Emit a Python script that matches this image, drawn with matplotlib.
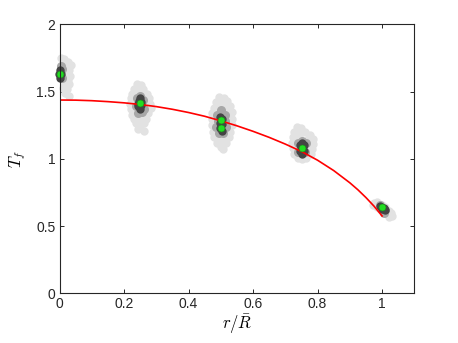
import matplotlib.pyplot as plt
from matplotlib.ticker import FuncFormatter

plt.rcParams['font.family'] = ['Liberation Sans', 'DejaVu Sans']
plt.rcParams['mathtext.fontset'] = 'cm'

# ---- fitted curve ----
curve_x = [0.0, 0.05, 0.1, 0.15, 0.2, 0.25, 0.3, 0.35, 0.4, 0.45, 0.5, 0.55,
           0.6, 0.65, 0.7, 0.75, 0.8, 0.85, 0.9, 0.925, 0.95, 0.975, 1.0]
curve_y = [1.438, 1.437, 1.433, 1.426, 1.417, 1.405, 1.389, 1.369, 1.345, 1.317,
           1.283, 1.246, 1.205, 1.160, 1.110, 1.055, 0.990, 0.913, 0.822, 0.770,
           0.712, 0.648, 0.575]

# ---- light grey scatter clouds ----
light_x = [0.005, 0.015, 0.025, 0.012, 0.022, 0.030, 0.012, 0.022, 0.032, 0.015, 0.028, 0.010,
           0.024, 0.018, 0.030, 0.006, 0.034, 0.020, 0.018, 0.026,
           0.240, 0.252, 0.232, 0.246, 0.260, 0.226, 0.270, 0.222, 0.276, 0.218, 0.280, 0.284,
           0.220, 0.226, 0.274, 0.232, 0.268, 0.262, 0.238, 0.250, 0.244, 0.262, 0.230, 0.268,
           0.236, 0.258, 0.248, 0.254, 0.238, 0.262, 0.230, 0.268, 0.244, 0.256, 0.250,
           0.495, 0.510, 0.485, 0.520, 0.478, 0.528, 0.474, 0.534, 0.472, 0.536, 0.474, 0.534,
           0.476, 0.530, 0.480, 0.526, 0.488, 0.516, 0.500, 0.506, 0.492, 0.515, 0.490, 0.515,
           0.500, 0.486, 0.518, 0.484, 0.520, 0.502,
           0.735, 0.748, 0.728, 0.760, 0.775, 0.724, 0.785, 0.722, 0.786, 0.724, 0.784, 0.728,
           0.780, 0.740, 0.765, 0.752, 0.742, 0.770, 0.735, 0.770, 0.752,
           0.975, 0.985, 0.972, 0.990, 1.000, 0.985, 1.010, 1.020, 1.028, 1.015, 1.030, 1.020,
           1.005, 0.995]
light_y = [1.75, 1.74, 1.72, 1.70, 1.68, 1.66, 1.62, 1.60, 1.62, 1.57, 1.56, 1.53,
           1.52, 1.49, 1.47, 1.68, 1.70, 1.64, 1.72, 1.59,
           1.56, 1.55, 1.52, 1.51, 1.52, 1.48, 1.48, 1.45, 1.45, 1.41, 1.41, 1.38,
           1.37, 1.33, 1.34, 1.30, 1.30, 1.27, 1.27, 1.25, 1.22, 1.21, 1.42, 1.40,
           1.36, 1.32, 1.29, 1.46, 1.48, 1.47, 1.38, 1.36, 1.31, 1.30, 1.50,
           1.46, 1.45, 1.42, 1.43, 1.38, 1.39, 1.34, 1.35, 1.30, 1.30, 1.25, 1.25,
           1.20, 1.20, 1.16, 1.16, 1.12, 1.12, 1.09, 1.07, 1.40, 1.38, 1.18, 1.17,
           1.14, 1.30, 1.28, 1.22, 1.23, 1.42,
           1.24, 1.23, 1.20, 1.20, 1.18, 1.16, 1.15, 1.12, 1.11, 1.08, 1.07, 1.04,
           1.04, 1.01, 1.01, 1.00, 1.18, 1.15, 1.10, 1.08, 1.20,
           0.675, 0.680, 0.660, 0.665, 0.660, 0.645, 0.640, 0.615, 0.600, 0.595, 0.575, 0.565,
           0.615, 0.630]

# ---- medium grey halo ----
mid_x = [0.008, 0.008, 0.004,
         0.240, 0.258, 0.236, 0.262, 0.244, 0.256, 0.250,
         0.488, 0.514, 0.486, 0.515, 0.495, 0.508, 0.500, 0.490, 0.512,
         0.738, 0.765, 0.740, 0.762, 0.751,
         0.992, 1.010, 1.005]
mid_y = [1.67, 1.60, 1.69,
         1.45, 1.44, 1.39, 1.37, 1.34, 1.35, 1.47,
         1.33, 1.33, 1.24, 1.24, 1.19, 1.19, 1.36, 1.28, 1.28,
         1.12, 1.12, 1.05, 1.05, 1.13,
         0.655, 0.620, 0.600]

# ---- dark grey core ----
dark_x = [0.000, 0.000, 0.004, -0.003,
          0.246, 0.252, 0.244, 0.250, 0.248, 0.254, 0.242,
          0.498, 0.505, 0.497, 0.504, 0.498, 0.504, 0.500,
          0.745, 0.757, 0.745, 0.757, 0.751, 0.751,
          0.995, 1.005, 1.000, 1.008]
dark_y = [1.665, 1.605, 1.635, 1.635,
          1.43, 1.40, 1.39, 1.37, 1.45, 1.42, 1.41,
          1.31, 1.30, 1.27, 1.26, 1.23, 1.21, 1.29,
          1.10, 1.10, 1.06, 1.06, 1.035, 1.115,
          0.650, 0.635, 0.625, 0.620]

# ---- green centres ----
green_x = [0.001, 0.248, 0.502, 0.500, 0.751, 1.000]
green_y = [1.635, 1.414, 1.289, 1.228, 1.081, 0.640]

fig = plt.figure(figsize=(4.58, 3.43), dpi=100)
ax = fig.add_axes([0.130, 0.145, 0.7747, 0.7836])

ax.plot(light_x, light_y, 'o', ms=6, color='#e2e2e2', mec='none', clip_on=False)
ax.plot(mid_x, mid_y, 'o', ms=6.5, color='#a8a8a8', mec='none', clip_on=False)
ax.plot(dark_x, dark_y, 'o', ms=6, color='#444444', mec='none', clip_on=False)
ax.plot(curve_x, curve_y, '-', color='#ff0000', lw=1.2)
ax.plot(green_x, green_y, 'o', ms=5, color='#22dd22', mec='#1a8a1a', mew=0.4, clip_on=False)

ax.set_xlim(0, 1.1)
ax.set_ylim(0, 2)
ax.set_xticks([0, 0.2, 0.4, 0.6, 0.8, 1.0])
ax.set_yticks([0, 0.5, 1, 1.5, 2])
fmt = FuncFormatter(lambda v, p: ('%g' % v))
ax.xaxis.set_major_formatter(fmt)
ax.yaxis.set_major_formatter(fmt)
ax.tick_params(direction='in', top=True, right=True, length=3, width=0.7,
               labelsize=10, colors='#262626', pad=3)
for s in ax.spines.values():
    s.set_color('#262626')
    s.set_linewidth(0.8)

ax.set_xlabel(r'$r/\bar{R}$', fontsize=12, labelpad=1)
ax.set_ylabel(r'$T_f$', fontsize=12, labelpad=6)

fig.savefig('out.png', dpi=100)
